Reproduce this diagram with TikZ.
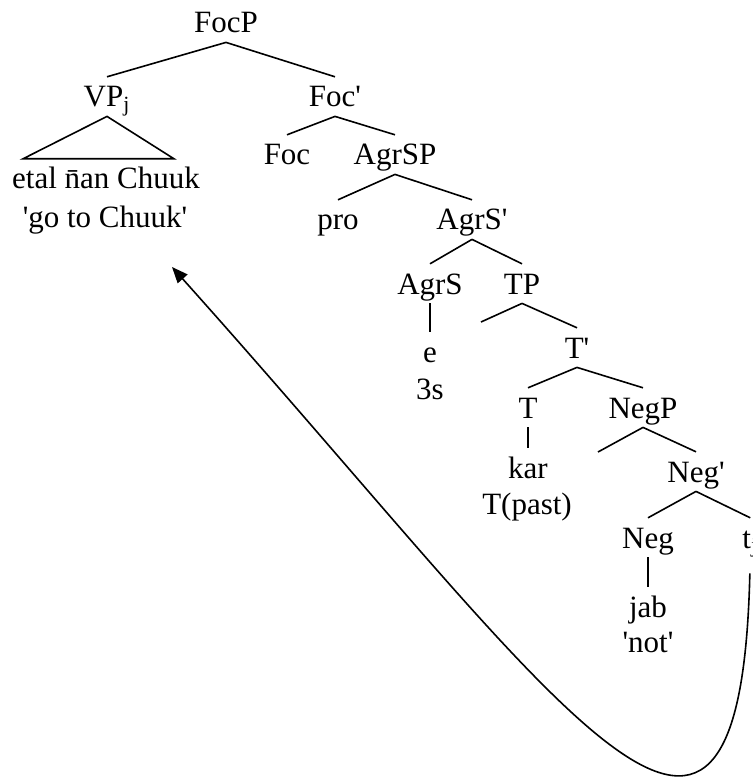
\documentclass[tikz,border=0pt]{standalone}
\usepackage{fontspec}
\setmainfont{Liberation Serif}[Ligatures=TeXOff]
\usetikzlibrary{arrows.meta,calc}
\tikzset{
    cat/.style={
        font=\fontsize{15.5}{18}\selectfont,
        anchor=base,
        inner sep=4.5pt,
        text height=10.4pt,
        text depth=0pt
    },
    branch/.style={line width=0.8pt},
    movement/.style={
        line width=0.8pt,
        -{Triangle[length=8pt,width=6.5pt]}
    }
}

\begin{document}
\begin{tikzpicture}[x=0.5pt,y=-0.5pt]
            \useasboundingbox (0,0) rectangle (752,780);
            % categories
            \node[cat] (FocP) at (226,33) {FocP};
            \node[cat] (VPj) at (107,107) {VP\textsubscript{j}};
            \node[cat] (etal) at (106,189) {etal n^^^^0304an Chuuk};
            \node[cat] (gloss) at (105,228) {'go to Chuuk'};
            \node[cat] (Focbar) at (335,107) {Foc'};
            \node[cat] (Foc) at (287,165) {Foc};
            \node[cat] (AgrSP) at (395,165) {AgrSP};
            \node[cat] (pro) at (338,230) {pro};
            \node[cat] (AgrSbar) at (472,230) {AgrS'};
            \node[cat] (AgrS) at (430,294) {AgrS};
            \node[cat] (TP) at (522,294) {TP};
            \node[cat] (e) at (430,362) {e};
            \node[cat] (threes) at (430,399) {3s};
            \node[cat] (Tbar) at (577,358) {T'};
            \node[cat] (T) at (528,418) {T};
            \node[cat] (NegP) at (643,418) {NegP};
            \node[cat] (kar) at (528,478) {kar};
            \node[cat] (Tpast) at (527,514) {T(past)};
            \node[cat] (Negbar) at (696,482) {Neg'};
            \node[cat] (Neg) at (648,548) {Neg};
            \node[cat,anchor=base west] (tj) at (733,548) {t\textsubscript{j}};
            \node[cat] (jab) at (648,617) {jab};
            \node[cat] (not) at (648,652) {'not'};
            \coordinate (TPspec) at (481,322);
            \coordinate (NegPspec) at (598,452);
            \coordinate (landing) at (172,267);
            % branches
            \foreach \m/\d in {FocP/VPj,FocP/Focbar,Focbar/Foc,Focbar/AgrSP,AgrSP/pro,AgrSP/AgrSbar,AgrSbar/AgrS,AgrSbar/TP,TP/Tbar,Tbar/T,Tbar/NegP,NegP/Negbar,Negbar/Neg,Negbar/tj,AgrS/e,T/kar,Neg/jab}
              \draw[branch] (\m.south) -- (\d.north);
            \draw[branch] (TP.south) -- (TPspec);
            \draw[branch] (NegP.south) -- (NegPspec);
            \draw[branch] (VPj.south) -- ($(etal.north)+(-83,0)$) -- ($(etal.north)+(68,0)$) -- cycle;
            % movement of VP
            \draw[movement,shorten <=8pt] (tj.south) .. controls (740,990) and (560,700) .. (landing);
          \end{tikzpicture}
\end{document}
